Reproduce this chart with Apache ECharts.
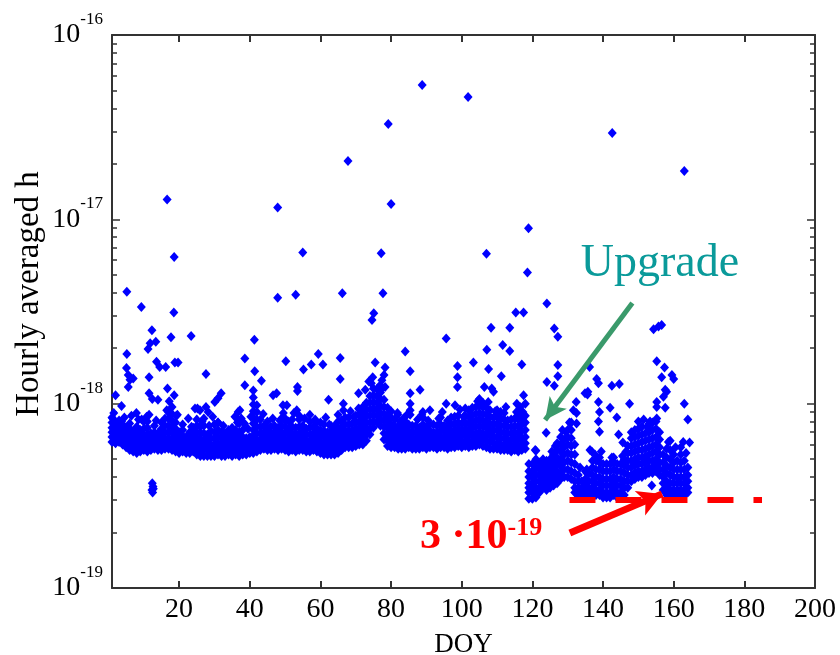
<!DOCTYPE html>
<html><head><meta charset="utf-8">
<script src="https://cdn.jsdelivr.net/npm/echarts@6/dist/echarts.min.js"></script>
<style>html,body{margin:0;padding:0;background:#fff}#c{width:840px;height:655px}</style>
</head><body><div id="c"></div>
<script>
const FONT = '"Liberation Serif", "Times New Roman", serif';
const xTicks = [20, 40, 60, 80, 100, 120, 140, 160, 180, 200];
const yTicks = [1e-19, 1e-18, 1e-17, 1e-16];
const yTickExp = ['-19', '-18', '-17', '-16'];
const UNIT = 1e-19; // all values below are in units of 1e-19

// per-day rows: [DOY, values...] (dense band before the upgrade)
const preUpgradeBand = [
[1,6.2,6.6,7.0,7.4,7.9,8.4],[2,6.1,6.5,6.9,7.3,7.8],[3,6.2,6.6,7.0,7.5],[4,6.0,6.4,6.8,7.2,7.7],[5,5.8,6.2,6.6,7.0,7.4],
[6,5.6,6.0,6.4,6.8,7.3,7.8],[7,5.5,5.9,6.3,6.7,7.1],[8,5.4,5.8,6.2,6.6,7.0,7.5],[9,5.5,5.9,6.3,6.7,7.2],[10,5.6,6.0,6.4,6.8,7.3],
[11,5.5,5.9,6.3,6.8,7.4,8.0],[12,5.6,6.0,6.4,6.9],[13,5.7,6.1,6.5,7.0,7.6],[14,5.6,6.0,6.4,6.9],[15,5.6,6.0,6.4,6.8,7.3],
[16,5.7,6.1,6.5,7.0,7.6,8.3],[17,5.7,6.1,6.5,7.0,7.6,8.3,9.0],[18,5.6,6.0,6.5,7.0,7.5,8.1,8.8,9.6],[19,5.5,5.9,6.3,6.8,7.3,7.9],[20,5.4,5.8,6.2,6.6,7.0],
[21,5.5,5.9,6.3,6.7,7.2],[22,5.4,5.8,6.2,6.6],[23,5.4,5.8,6.2,6.6,7.0],[24,5.5,5.9,6.3,6.8,7.4],[25,5.3,5.7,6.1,6.5,7.0,7.6],
[26,5.2,5.6,6.0,6.4,6.9,7.5],[27,5.2,5.6,6.0,6.4,6.9,7.6,8.3],[28,5.2,5.6,6.0,6.4,6.8],[29,5.2,5.6,6.0,6.5,7.1],[30,5.2,5.6,6.0,6.5,7.0,7.7],
[31,5.3,5.7,6.1,6.6,7.2,7.9],[32,5.2,5.6,6.0,6.5,7.0],[33,5.2,5.6,6.0,6.4,6.9],[34,5.3,5.7,6.1,6.5],[35,5.2,5.6,6.0,6.4,6.8],
[36,5.3,5.7,6.1,6.6,7.2],[37,5.2,5.6,6.0,6.5,7.0,7.8],[38,5.3,5.7,6.1,6.6,7.2],[39,5.3,5.7,6.1,6.5],[40,5.4,5.8,6.2,6.6],
[41,5.4,5.8,6.2,6.7,7.2,7.8,8.4,9.1,9.9,10.8,11.8],[42,5.5,5.9,6.4,6.9,7.5,8.2,9.0,9.8],[43,5.6,6.0,6.4,6.9,7.5,8.2],[44,5.7,6.1,6.5,7.0,7.6],[45,5.6,6.0,6.4,6.8,7.3],
[46,5.6,6.0,6.4,6.9,7.5],[47,5.7,6.1,6.5,7.0,7.6],[48,5.6,6.0,6.4,6.9,7.4],[49,5.7,6.1,6.5,7.0,7.6,8.3],[50,5.6,6.0,6.4,6.9,7.5,8.1],
[51,5.5,5.9,6.3,6.8,7.3],[52,5.6,6.0,6.4,6.9,7.5,8.2],[53,5.5,5.9,6.3,6.8,7.4],[54,5.6,6.0,6.4,6.9,7.5,8.2],[55,5.6,6.0,6.5,7.0,7.6],
[56,5.5,5.9,6.3,6.8,7.3],[57,5.5,5.9,6.3,6.8,7.4,8.0],[58,5.6,6.0,6.4,6.9,7.5],[59,5.5,5.9,6.3,6.8,7.3,7.9],[60,5.4,5.8,6.2,6.7,7.2],
[61,5.3,5.7,6.1,6.6,7.1,7.7],[62,5.3,5.7,6.1,6.5,7.0],[63,5.3,5.7,6.1,6.6,7.1,7.6],[64,5.3,5.7,6.1,6.5,7.0],[65,5.4,5.8,6.2,6.7,7.3,8.0],
[66,5.6,6.0,6.4,6.9,7.5,8.1],[67,5.8,6.2,6.6,7.1,7.7],[68,5.8,6.2,6.6,7.1,7.7,8.4],[69,5.8,6.2,6.7,7.2,7.8],[70,5.9,6.3,6.8,7.3,7.9,8.6],
[71,6.0,6.4,6.9,7.4,8.0,8.7],[72,6.0,6.5,7.0,7.6,8.2,8.9,9.6],[73,6.3,6.8,7.3,7.9,8.6,9.3,10.1],[74,6.8,7.3,7.9,8.6,9.3,10.1,11.0],[75,7.4,8.0,8.7,9.4,10.2,11.1,12.1],
[76,7.9,8.6,9.3,10.1,11.0,12.0],[77,7.6,8.2,8.9,9.7,10.6,11.5],[78,6.4,6.9,7.5,8.1,8.8,9.6,10.5],[79,5.9,6.3,6.8,7.4,8.0,8.7,9.5],[80,5.8,6.2,6.6,7.1,7.7,8.4],
[81,5.8,6.2,6.6,7.1,7.6],[82,5.7,6.1,6.5,7.0,7.5],[83,5.7,6.1,6.5,7.0,7.6],[84,5.7,6.1,6.5,6.9,7.4,8.0],[85,5.8,6.2,6.6,7.1,7.7],
[86,5.7,6.1,6.5,7.0],[87,5.7,6.1,6.5,7.0,7.6],[88,5.7,6.1,6.5,6.9,7.4],[89,5.8,6.2,6.6,7.1,7.7,8.4],[90,5.7,6.1,6.5,7.0,7.5],
[91,5.8,6.2,6.6,7.1,7.7],[92,5.8,6.2,6.6,7.0],[93,5.7,6.1,6.5,7.0,7.6],[94,5.8,6.2,6.6,7.1,7.7,8.4],[95,5.8,6.2,6.6,7.1,7.6],
[96,5.7,6.1,6.5,7.0,7.5],[97,5.8,6.2,6.6,7.1,7.7],[98,5.8,6.2,6.7,7.2,7.8,8.5],[99,5.9,6.3,6.8,7.3,7.9,8.6],[100,5.8,6.2,6.7,7.2,7.8],
[101,5.9,6.3,6.8,7.3,7.9,8.6],[102,5.8,6.2,6.7,7.2,7.8,8.5],[103,5.9,6.3,6.8,7.4,8.0,8.7,9.5],[104,5.9,6.4,6.9,7.5,8.1,8.8,9.6],[105,6.0,6.5,7.0,7.6,8.2,8.9,9.7,10.6],
[106,5.9,6.4,6.9,7.5,8.1,8.8,9.6],[107,5.8,6.3,6.8,7.4,8.0,8.7,9.5],[108,5.7,6.2,6.7,7.2,7.8,8.5,9.2],[109,5.7,6.1,6.6,7.1,7.7,8.4],[110,5.7,6.1,6.6,7.2,7.8,8.5,9.2],
[111,5.6,6.0,6.5,7.0,7.6,8.3],[112,5.6,6.0,6.5,7.0,7.6,8.2,8.9],[113,5.6,6.0,6.4,6.9,7.5,8.1],[114,5.5,5.9,6.4,6.9,7.5],[115,5.6,6.0,6.5,7.0,7.6,8.3],
[116,5.5,5.9,6.4,6.9,7.5,8.2,8.9],[117,5.6,6.0,6.5,7.1,7.7,8.4],[118,5.7,6.1,6.6,7.2,7.9]
];

// per-day rows after the upgrade
const postUpgradeBand = [
[119,3.05,3.3,3.5,3.7,4.0,4.3,4.7],[120,3.05,3.3,3.5,3.7,4.0,4.3],[121,3.1,3.3,3.5,3.8,4.1,4.5,5.0],[122,3.3,3.5,3.8,4.1,4.4],[123,3.5,3.7,4.0,4.3,4.6],
[124,3.4,3.6,3.9,4.2,4.5,4.9],[125,3.5,3.7,4.0,4.3,4.6,5.0],[126,3.6,3.9,4.2,4.5,4.9,5.3],[127,3.7,4.0,4.3,4.7,5.1,5.6,6.1],[128,3.9,4.2,4.6,5.0,5.5,6.0,6.6],
[129,4.0,4.4,4.8,5.3,5.8,6.4],[130,4.0,4.4,4.9,5.4,6.0,6.6,7.2],[131,3.9,4.3,4.8,5.3,5.9,6.5,7.2,7.9],[132,3.3,3.5,3.8,4.2,4.7,5.3,6.0],[133,3.1,3.3,3.5,3.8,4.1],
[134,3.1,3.3,3.5,3.8],[135,3.1,3.3,3.6,3.9],[136,3.1,3.3,3.5,3.8,4.2],[137,3.1,3.3,3.5,3.8,4.1,4.5],[138,3.2,3.4,3.7,4.0,4.4,4.9],
[139,3.2,3.4,3.7,4.0,4.4,4.8,5.1],[140,3.1,3.3,3.6,3.9,4.3,4.7],[141,3.1,3.3,3.6,3.9,4.3],[142,3.1,3.3,3.6,3.9,4.3,4.7],[143,3.2,3.4,3.7,4.0,4.4,4.8,5.1],
[144,3.1,3.3,3.6,3.9,4.3],[145,3.1,3.3,3.6,3.9,4.3,4.7],[146,3.2,3.5,3.8,4.2,4.6,5.0],[147,3.5,3.8,4.1,4.5,4.9,5.4,5.9],[148,3.8,4.1,4.5,4.9,5.4,5.9,6.5],
[149,3.9,4.2,4.6,5.0,5.5,6.0,6.6,7.2],[150,4.0,4.3,4.7,5.1,5.6,6.1,6.7,7.3],[151,4.0,4.3,4.7,5.1,5.6,6.2,6.8,7.5],[152,4.1,4.4,4.8,5.2,5.7,6.3,6.9],[153,4.2,4.5,4.9,5.3,5.8,6.4,7.0,7.7],
[154,4.2,4.5,4.9,5.4,5.9,6.5,7.2],[155,4.3,4.6,5.0,5.5,6.0,6.6,7.3,8.0],[156,4.1,4.4,4.8,5.3,5.8,6.4],[157,3.4,3.7,4.0,4.4,4.8,5.3],[158,3.2,3.5,3.8,4.2,4.6,5.1,5.7],
[159,3.2,3.4,3.7,4.1,4.5,5.0,5.6,6.3],[160,3.2,3.4,3.7,4.0,4.4,4.8,5.3],[161,3.2,3.4,3.7,4.0,4.4,4.9],[162,3.2,3.4,3.7,4.0,4.4,4.8,5.3],[163,3.2,3.4,3.7,4.0,4.4,4.9],
[164,3.3,3.5,3.8,4.1,4.5]
];

// ragged upper edge of the dense band: [DOY, value]
const bandUpperEdge = [
[1.5,8.9],[3,8.1],[4.5,8.4],[6.5,8.6],[8.5,8.2],[10,8.0],[11.5,8.7],[13.5,8.1],[15,7.9],[16.5,9.2],[19.5,8.7],
[21,7.7],[23.5,7.5],[25,8.2],[26.5,8.0],[28.5,7.6],[29.5,8.5],[32.5,7.6],[34,7.2],[35,7.4],[36.5,7.9],[38.5,7.8],[39.5,7.3],[40.3,8.5],
[43.8,8.8],[45,8.0],[46.5,8.3],[48.5,8.1],[49.5,8.9],[51,8.0],[52.5,8.9],[54,8.6],[55.5,8.3],[57,8.7],[58.5,8.2],[60,7.9],[61.5,8.4],
[62.5,7.7],[64,7.6],[65,8.7],[67,8.4],[68.5,9.1],[69.5,8.5],[71,9.3],[74.4,12.9],[76.9,12.6],[77.4,12.1],[78.3,12.3],[79.3,8.5],[81.8,8.9],
[80,9.1],[81,8.2],[82.5,8.0],[83.5,8.3],[84.5,8.7],[86,7.6],[87.5,8.2],[89,9.0],[90.5,8.1],[92,7.7],[93.5,8.3],[94.5,9.0],[96,8.1],[97,8.4],
[99.5,9.3],[100.5,8.5],[102,9.2],[104.5,10.3],[106,10.1],[107.5,10.2],[109.5,9.1],[111,9.0],[112.5,9.6],[114,8.2],[115.5,9.0],[116.5,9.6],[118,8.6],
[120,4.7],[122,4.8],[123,5.0],[125.5,5.5],[126.5,5.9],[128.5,7.2],[129.5,7.0],[130.5,7.9],[133.5,4.5],[135,4.3],[137,4.9],[139.5,5.5],[141,4.7],
[142.5,5.1],[144,4.7],[145.5,5.2],[146.5,5.5],[148,7.0],[150,8.0],[151.5,8.2],[152.5,7.5],[154,7.9],[156,7.0],[158.5,6.2],[160.5,5.8],[162,5.8],[163.5,5.4]
];

// isolated low cluster near DOY 12
const lowCluster = [[12.3,3.4],[12.5,3.3],[12.6,3.55],[12.4,3.7],[12.7,3.45]];

// scattered points above the band: [DOY, value]
const scatterMid = [
[1.2,8.3],[2,11.1],[3.7,9.7],[3.7,8.0],[5.2,18.6],[5.1,15.6],[5.6,14.3],[6.1,13.5],[7,13.7],[5.6,12.3],[7.9,8.9],[9.4,8.2],[10.8,8.5],
[11.5,13.9],[11.5,11.4],[12.4,10.6],[14,10.5],[12.3,25],[11.8,21.3],[11.2,19.8],[13.4,21.7],[13.6,16.9],[14.5,15.8],[16.2,15.8],[18.8,16.7],[19.7,16.7],
[17.7,22.9],[16.7,12.1],[18.6,11.1],[17.2,10.3],[19.2,8.6],[22.6,8.3],[24.5,9.4],[25.9,9.2],[23.4,23.3],[27.6,14.5],[25.2,9.4],[27.6,9.6],[28.2,9.0],
[31,10.7],[31.9,11.4],[30.1,10.2],[31,7.9],[35.8,8.5],[36.7,9.0],[37.6,8.3],[37.2,9.2],[38.6,17.6],[38.6,12.6],[41.3,22.2],[41.4,15.0],[43.3,13.3],
[46.6,11.1],[47.6,11.4],[49.4,9.8],[50,8.3],[50.2,17.0],[50.5,9.8],[53.3,9.2],[53.5,12.3],[53.5,11.7],[55.2,15.3],[57.4,16.3],[59.4,18.6],[60.7,16.3],
[62.3,10.5],[65.6,17.7],[65.6,13.6],[66.5,10],[66.5,9.2],[70.8,9.4],[70.8,11.4],[72.7,11.9],[73.7,13.2],[74.8,13.9],[75.5,16.7],[77.4,13.4],[78,14.3],
[78.3,15.7],[81.9,8.7],[84,19.2],[85.4,15.0],[85.4,11.4],[85.4,10],[85.4,9.2],[85.4,8.7],[88.2,11.9],[88.7,8.7],[91,9.2],[95.6,22.6],[95.6,10],[98.1,9.8],
[98.8,16],[98.8,13.9],[98.8,12.3],[101,9.4],[103.3,16.7],[107.1,19.6],[107.6,15.4],[106.4,12.3],[108.5,12.1],[109,11.6],[108.3,25.8],[111.6,20.8],
[113.6,19.3],[113.6,25.8],[111.2,14.1],[117,16.3],[117.5,11.1],[118,10],[115.6,10],[117,8.5],[117.3,9],
[121,5.55],[120.8,5.6],[123.9,6.95],[124.1,13.1],[126.2,12.5],[126.2,25.6],[127.2,23.1],[127.2,16.2],[127.2,14.1],[131.6,9.2],[132.4,10.2],[132.5,8.9],
[132.5,7.8],[134.9,11.4],[135.6,11.2],[135.7,11.6],[136.2,15.8],[135.4,4.4],[135.4,4.2],[136.3,5.6],[136.8,5.5],[137.7,5.3],[138.2,13.6],[138.7,12.9],
[138.7,10.2],[139,9.0],[138.7,8.0],[139,7.05],[142,9.5],[142.5,12.5],[143.9,8.4],[144.4,6.8],[144.6,12.8],[145.6,6.15],[147.5,10.0],[153.1,7.8],[153.3,8.0],
[153.8,3.6],[155.2,8.3],[155.2,9.6],[155.2,10.2],[155.2,17],[157.1,10.9],[157.6,9.5],[157.6,11.9],[158,11.6],[157.4,15.7],[156.6,13.9],[159.5,14.3],
[160,13.6],[154.3,25.3],[155.7,26.2],[156.6,26.7],[163,10],[164,8.2],[162.7,6.2],[164.5,6.15]
];

// high outliers: [DOY, value]
const outliers = [
[5.2,40.5],[9.3,33.5],[16.6,128],[18.6,62.5],[18.5,31.2],[47.9,116],[47.9,37.5],[53,39],[55,66],[66.2,39.7],[67.8,207],[74.6,28.4],[75.1,30.9],
[77.2,65.5],[77.7,39.7],[79.2,329],[80,121],[88.8,535],[101.8,461],[107,65],[118.9,89.5],[118.6,51.5],[124.1,35],[115.3,31.2],[117.5,31.2],[142.6,294],[163,183]
];

// annotations (data coordinates, values in units of 1e-19)
const thresholdLevel = 3;
const thresholdRange = [130.5, 185];
const upgradeArrow = [[148.3, 35.2], [123.6, 8.15]];
const thresholdArrow = [[130.6, 1.99], [156.7, 3.24]];

const points = [];
preUpgradeBand.concat(postUpgradeBand).forEach(r => { for (let i = 1; i < r.length; i++) points.push([r[0], r[i] * UNIT]); });
bandUpperEdge.concat(lowCluster, scatterMid, outliers).forEach(p => points.push([p[0], p[1] * UNIT]));

const minorTicks = [];
[-19, -18, -17].forEach(e => { for (let m = 2; m <= 9; m++) minorTicks.push(m * Math.pow(10, e)); });

const AX = { color: '#333', width: 2 };
function xAx(pos, withLabel) {
  return {
    type: 'value', position: pos, min: 1, max: 200, splitNumber: 10,
    axisLine: { show: true, onZero: false, lineStyle: AX },
    axisTick: { show: true, inside: true, length: 7, customValues: xTicks, lineStyle: AX },
    axisLabel: withLabel ? { show: true, customValues: xTicks, fontFamily: FONT, fontSize: 28, lineHeight: 28, color: '#000', margin: 8 } : { show: false },
    splitLine: { show: false },
    name: withLabel ? 'DOY' : '', nameLocation: 'middle', nameGap: 43,
    nameTextStyle: { fontFamily: FONT, fontSize: 27, lineHeight: 27, color: '#000' }
  };
}
function yAx(pos, ticks, len, withLine, withLabel) {
  return {
    type: 'log', logBase: 10, position: pos, min: 1e-19, max: 1e-16,
    axisLine: { show: withLine, onZero: false, lineStyle: AX },
    axisTick: { show: true, inside: true, length: len, customValues: ticks, lineStyle: { color: '#333', width: 1.5 } },
    axisLabel: withLabel ? {
      show: true, customValues: yTicks, margin: 9,
      formatter: v => { const i = yTicks.findIndex(t => Math.abs(Math.log10(t) - Math.log10(v)) < 1e-6); return '{b|10}{s|' + yTickExp[i] + '}'; },
      rich: {
        b: { fontFamily: FONT, fontSize: 28, lineHeight: 28, color: '#000', verticalAlign: 'middle' },
        s: { fontFamily: FONT, fontSize: 17, lineHeight: 17, color: '#000', verticalAlign: 'middle', padding: [0, 0, 31, 0] }
      }
    } : { show: false },
    splitLine: { show: false }, minorTick: { show: false }
  };
}

const chart = echarts.init(document.getElementById('c'), null, { renderer: 'canvas' });
chart.setOption({
  animation: false,
  backgroundColor: '#fff',
  grid: { left: 112, right: 25, top: 35, bottom: 67, containLabel: false, outerBoundsMode: 'none' },
  xAxis: [xAx('bottom', true), xAx('top', false)],
  yAxis: [
    yAx('left', yTicks, 8, true, true),
    yAx('left', minorTicks, 5, false, false),
    yAx('right', yTicks, 8, true, false),
    yAx('right', minorTicks, 5, false, false)
  ],
  series: [{
    type: 'scatter', xAxisIndex: 0, yAxisIndex: 0,
    symbol: 'diamond', symbolSize: [9, 10],
    itemStyle: { color: '#0000ff', opacity: 1 },
    silent: true,
    data: points,
    markLine: {
      silent: true, animation: false,
      label: { show: false },
      symbol: ['none', 'none'],
      data: [
        [{ coord: [thresholdRange[0], thresholdLevel * UNIT], lineStyle: { color: '#ff0000', width: 6, type: [26, 20], cap: 'butt' } },
         { coord: [thresholdRange[1], thresholdLevel * UNIT] }],
        [{ coord: [thresholdArrow[0][0], thresholdArrow[0][1] * UNIT], symbol: 'none', lineStyle: { color: '#ff0000', width: 7, type: 'solid' } },
         { coord: [thresholdArrow[1][0], thresholdArrow[1][1] * UNIT], symbol: 'arrow', symbolSize: [20, 24] }],
        [{ coord: [upgradeArrow[0][0], upgradeArrow[0][1] * UNIT], symbol: 'none', lineStyle: { color: '#3a9a6b', width: 5, type: 'solid' } },
         { coord: [upgradeArrow[1][0], upgradeArrow[1][1] * UNIT], symbol: 'arrow', symbolSize: [16, 22] }]
      ]
    }
  }],
  graphic: [
    { type: 'text', x: 29, y: 294, rotation: Math.PI / 2,
      style: { text: 'Hourly averaged h', font: '33px ' + FONT, fill: '#000', textAlign: 'center', textVerticalAlign: 'middle' } },
    { type: 'text', x: 660, y: 264,
      style: { text: 'Upgrade', font: '46px ' + FONT, fill: '#0a9a9a', textAlign: 'center', textVerticalAlign: 'middle' } },
    { type: 'text', x: 420, y: 537,
      style: { text: '{a|3 ·10}{b|-19}', textAlign: 'left', textVerticalAlign: 'middle',
        rich: {
          a: { fontFamily: FONT, fontSize: 42, lineHeight: 42, fontWeight: 'bold', fill: '#ff0000', verticalAlign: 'middle' },
          b: { fontFamily: FONT, fontSize: 26, lineHeight: 26, fontWeight: 'bold', fill: '#ff0000', verticalAlign: 'middle', padding: [0, 0, 17, 0] }
        } } }
  ]
});
</script></body></html>
